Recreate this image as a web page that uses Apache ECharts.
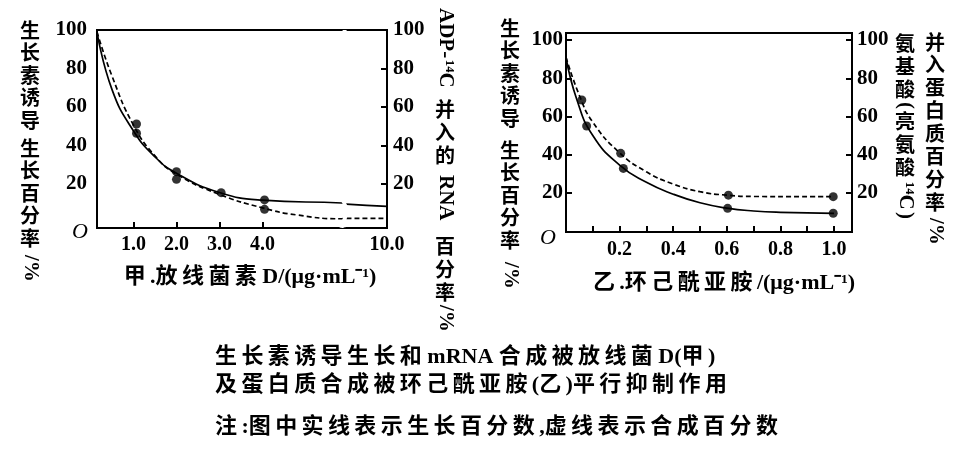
<!DOCTYPE html>
<html>
<head>
<meta charset="utf-8">
<script src="https://cdn.jsdelivr.net/npm/echarts@6.0.0/dist/echarts.min.js"></script>
<style>
html, body { margin: 0; padding: 0; background: #fff; }
#main { width: 958px; height: 458px; }
</style>
</head>
<body>
<div id="main"></div>
<script>
// 甲：放线菌素 D
var aTickValues = [1, 2, 3, 4];
var aLabelValues = [1, 2, 3, 4, 10];
var aGrowthCurve = [[0.15, 99], [0.5, 69], [1.0, 47.5], [1.5, 34], [2.0, 25.5], [3.0, 15.5], [4.0, 11.5], [5.85, 10], [9.05, 9.4], [10, 8.2]];
var aSynthCurve = [[0.15, 99], [0.5, 76], [1.0, 50.5], [1.5, 34.5], [2.0, 25], [3.0, 14.5], [4.0, 7.5], [4.8, 3.8], [5.85, 1.8], [9.05, 2], [10, 2]];
var aGrowthDots = [[1.07, 46.3], [2.0, 26.3], [3.04, 15.4], [4.05, 11.6]];
var aSynthDots = [[1.07, 51.1], [2.0, 22.3], [4.05, 6.7]];

// 乙：环己酰亚胺
var bTickValues = [0.1, 0.2, 0.3, 0.4, 0.5, 0.6, 0.7, 0.8, 0.9, 1.0];
var bLabelValues = [0.2, 0.4, 0.6, 0.8, 1.0];
var bGrowthCurve = [[0, 91], [0.04, 69], [0.1, 50], [0.2, 34.5], [0.3, 25.5], [0.4, 19.3], [0.5, 14.8], [0.6, 12], [0.7, 10.5], [0.8, 9.8], [1.0, 9.3]];
var bSynthCurve = [[0, 91], [0.05, 71], [0.1, 57], [0.2, 41], [0.3, 31], [0.4, 24.6], [0.5, 20.6], [0.6, 18.8], [0.7, 18.1], [1.0, 18]];
var bGrowthDots = [[0.077, 55], [0.214, 32.8], [0.603, 11.9], [0.997, 9.3]];
var bSynthDots = [[0.059, 68.6], [0.204, 40.7], [0.606, 18.8], [0.997, 18]];

var yLabelValues = [20, 40, 60, 80, 100];

var serif = "'Liberation Serif', 'Noto Sans CJK SC', serif";
var hei = "'Noto Sans CJK SC', sans-serif";

// a thin space after every CJK character, the print is set loose
function loose(s) {
    return s.replace(/([\u3400-\u9fff])(?=[^ ])/g, '$1\u2009');
}

// vertical title: upright CJK one char per line, latin turned sideways
function vTitle(cx, parts, pitch) {
    var out = [];
    parts.forEach(function (p) {
        var text = p[0], y = p[1];
        if (p[2]) {
            out.push({
                type: 'text', x: cx, y: y, rotation: -Math.PI / 2,
                style: { text: text, font: 'bold 21px ' + serif, fill: '#000',
                    align: 'left', verticalAlign: 'middle', textAlign: 'left', textVerticalAlign: 'middle' }
            });
        } else {
            for (var i = 0; i < text.length; i++) {
                out.push({
                    type: 'text', x: cx, y: y + i * pitch,
                    style: { text: text[i], font: 'bold 20px ' + hei, fill: '#000',
                        align: 'center', verticalAlign: 'top', textAlign: 'center', textVerticalAlign: 'top' }
                });
            }
        }
    });
    return out;
}

function plainText(x, y, text, font, align) {
    return {
        type: 'text', x: x, y: y,
        style: { text: text, font: font, fill: '#000',
            align: align || 'left', verticalAlign: 'middle', textAlign: align || 'left', textVerticalAlign: 'middle' }
    };
}

var graphics = []
    .concat(vTitle(30, [['生长素诱导', 20], ['生长百分率', 138], ['/%', 255, true]], 22.5))
    .concat(vTitle(445, [['ADP-', 8, true], ['¹⁴C', 60, true], ['并入的', 99], ['RNA', 175, true], ['百分率', 236], ['/%', 305, true]], 23))
    .concat(vTitle(510, [['生长素诱导', 18], ['生长百分率', 140], ['/%', 262, true]], 22.5))
    .concat(vTitle(905, [['氨基酸', 33], ['(', 102, true], ['亮氨酸', 111], ['¹⁴C', 182, true], [')', 212, true]], 23))
    .concat(vTitle(935, [['并入蛋白质百分率', 32], ['/%', 218, true]], 22.9))
    .concat([
        plainText(88, 232, 'O', 'italic 22px ' + serif, 'right'),
        plainText(556, 238, 'O', 'italic 22px ' + serif, 'right'),
        plainText(215, 357, loose('生长素诱导生长和 mRNA 合成被放线菌 D(甲)'), 'bold 22px ' + serif),
        plainText(215, 385, loose('及蛋白质合成被环己酰亚胺(乙)平行抑制作用'), 'bold 22px ' + serif),
        plainText(215, 427, loose('注:图中实线表示生长百分数,虚线表示合成百分数'), 'bold 22px ' + serif)
    ]);

var axisLine = { show: true, onZero: false, lineStyle: { color: '#000', width: 2 } };
var numLabel = { color: '#000', fontFamily: serif, fontWeight: 'bold', fontSize: 21 };
var nameStyle = { color: '#000', fontFamily: serif, fontWeight: 'bold', fontSize: 22 };

function yAxis(gridIndex, pos, min, max, tick, margin) {
    return {
        type: 'value', gridIndex: gridIndex, position: pos, min: min, max: max,
        splitLine: { show: false },
        axisLine: axisLine,
        axisTick: { show: tick, inside: true, length: 6, customValues: yLabelValues, lineStyle: { color: '#000', width: 2 } },
        axisLabel: Object.assign({ customValues: yLabelValues, margin: margin }, numLabel)
    };
}

function lineSeries(xi, yi, data, dashed) {
    return {
        type: 'line', xAxisIndex: xi, yAxisIndex: yi, data: data,
        showSymbol: false, smooth: 0.5, silent: true,
        lineStyle: { color: '#000', width: 1.7, type: dashed ? [5, 3] : 'solid' }
    };
}

function dotSeries(xi, yi, data) {
    return {
        type: 'scatter', xAxisIndex: xi, yAxisIndex: yi, data: data,
        symbolSize: 9, itemStyle: { color: '#000' }, z: 5
    };
}

var chart = echarts.init(document.getElementById('main'), null, { renderer: 'canvas' });
chart.setOption({
    backgroundColor: '#fff',
    animation: false,
    grid: [
        { left: 97, right: 571, top: 30, bottom: 230, show: true, borderColor: '#000', borderWidth: 2 },
        { left: 566, right: 106, top: 33, bottom: 226, show: true, borderColor: '#000', borderWidth: 2 }
    ],
    xAxis: [
        {
            type: 'value', gridIndex: 0, min: 0.15, max: 10,
            breaks: [{ start: 5.85, end: 9.05, gap: '1.5%' }],
            breakArea: { show: true, itemStyle: { color: '#fff', borderWidth: 0, opacity: 1 }, zigzagAmplitude: 3 },
            splitLine: { show: false },
            axisLine: axisLine,
            axisTick: { inside: true, length: 6, customValues: aTickValues, lineStyle: { color: '#000', width: 2 } },
            axisLabel: Object.assign({ customValues: aLabelValues, margin: 7, formatter: function (v) { return v.toFixed(1); } }, numLabel, { fontSize: 20 }),
            name: loose('甲.放线菌素 D/(μg·mL⁻¹)'), nameLocation: 'middle', nameGap: 38,
            nameTextStyle: Object.assign({ padding: [0, 0, 0, 16] }, nameStyle)
        },
        {
            type: 'value', gridIndex: 1, min: 0, max: 1.067,
            splitLine: { show: false },
            axisLine: axisLine,
            axisTick: { inside: true, length: 6, customValues: bTickValues, lineStyle: { color: '#000', width: 2 } },
            axisLabel: Object.assign({ customValues: bLabelValues, margin: 8, formatter: function (v) { return v.toFixed(1); } }, numLabel, { fontSize: 20 }),
            name: loose('乙.环己酰亚胺/(μg·mL⁻¹)'), nameLocation: 'middle', nameGap: 40,
            nameTextStyle: Object.assign({ padding: [0, 0, 0, 30] }, nameStyle)
        }
    ],
    yAxis: [
        yAxis(0, 'left', -3, 100, false, 10),
        yAxis(0, 'right', -3, 100, true, 6),
        yAxis(1, 'left', -0.5, 103.7, true, 3),
        yAxis(1, 'right', -0.5, 103.7, true, 5)
    ],
    series: [
        lineSeries(0, 0, aGrowthCurve, false),
        lineSeries(0, 0, aSynthCurve, true),
        dotSeries(0, 0, aGrowthDots),
        dotSeries(0, 0, aSynthDots),
        lineSeries(1, 2, bGrowthCurve, false),
        lineSeries(1, 2, bSynthCurve, true),
        dotSeries(1, 2, bGrowthDots),
        dotSeries(1, 2, bSynthDots)
    ],
    graphic: graphics
});
</script>
</body>
</html>
